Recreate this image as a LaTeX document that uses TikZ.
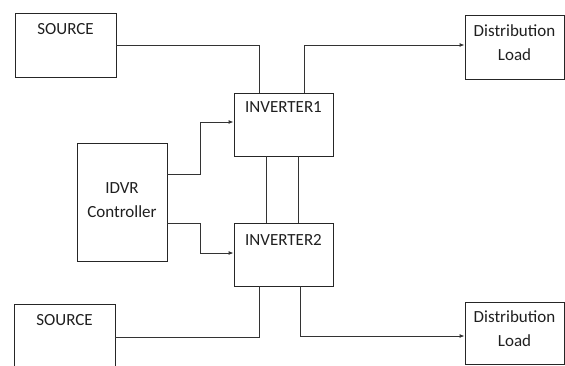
\documentclass[tikz,border=0pt]{standalone}
\usepackage{fontspec}
\setmainfont{Carlito}
\usetikzlibrary{arrows.meta}
\begin{document}
\begin{tikzpicture}[x=1bp,y=1bp,
  box/.style={draw=black!85,line width=0.9bp,minimum width=#1,inner sep=0pt},
  txt/.style={font=\fontsize{17bp}{24bp}\selectfont,text=black!88,inner sep=0pt,align=center},
  wire/.style={draw=black!80,line width=0.9bp},
  arr/.style={wire,-{Latex[length=5bp,width=4bp]}}]
\useasboundingbox (0,0) rectangle (565,365);
% boxes
\node[box=101bp,minimum height=64bp] (s1) at (65.5,320) {};
\node[box=99bp,minimum height=63bp] (i1) at (283.5,240.5) {};
\node[box=99bp,minimum height=64bp] (d1) at (514.5,318) {};
\node[box=90bp,minimum height=118bp] (c) at (122,163) {};
\node[box=99bp,minimum height=63bp] (i2) at (283.5,110.5) {};
\node[box=101bp,minimum height=64bp] (s2) at (64.5,29) {};
\node[box=99bp,minimum height=62bp] (d2) at (514.5,32) {};
% texts
\node[txt] (ts1) at (65.5,336) {SOURCE};
\node[txt] (ti1) at (283.5,258) {INVERTER1};
\node[txt] (td1) at (514.5,322) {Distribution\\Load};
\node[txt] (tc) at (122,165) {IDVR\\Controller};
\node[txt] (ti2) at (283.5,125) {INVERTER2};
\node[txt] (ts2) at (64.5,45) {SOURCE};
\node[txt] (td2) at (514.5,36) {Distribution\\Load};
% connectors
\draw[wire] (s1.east) -| ([xshift=-24.5bp]i1.north);
\draw[arr] ([xshift=20.5bp]i1.north) |- ([yshift=2bp]d1.west);
\draw[arr] ([yshift=28bp]c.east) -- ++(33,0) |- ([yshift=2.5bp]i1.west);
\draw[arr] ([yshift=-21bp]c.east) -- ++(33,0) |- ([yshift=1.5bp]i2.west);
\draw[wire] ([xshift=-17.5bp]i1.south) -- ([xshift=-17.5bp]i2.north);
\draw[wire] ([xshift=14.5bp]i1.south) -- ([xshift=14.5bp]i2.north);
\draw[wire] ([yshift=-1bp]s2.east) -| ([xshift=-24.5bp]i2.south);
\draw[arr] ([xshift=16.5bp]i2.south) |- ([yshift=-3bp]d2.west);
\end{tikzpicture}
\end{document}
